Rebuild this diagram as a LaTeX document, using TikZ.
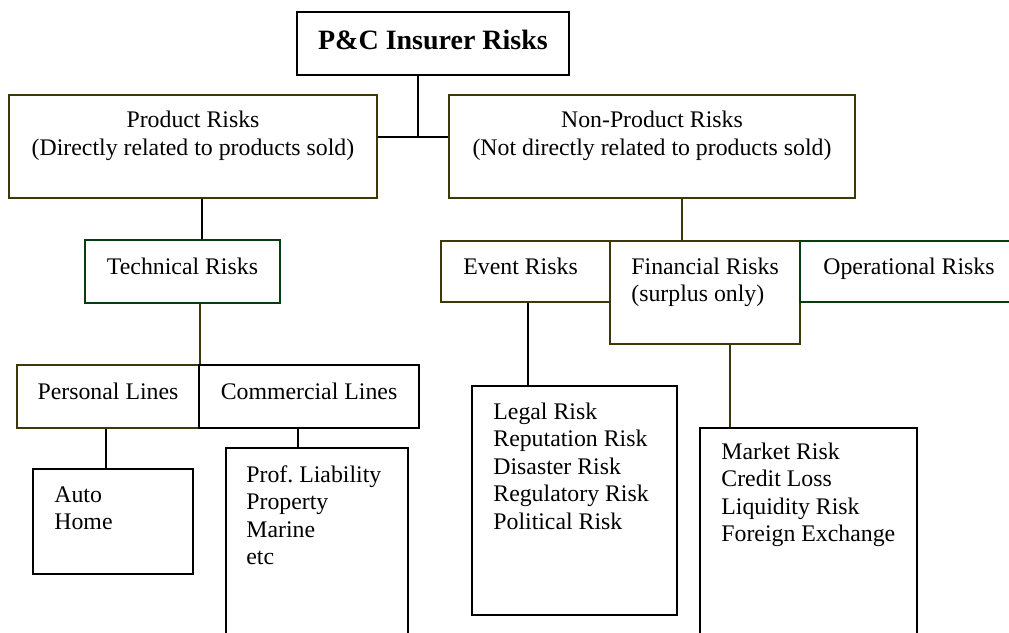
\documentclass[tikz,border=0pt]{standalone}
\usepackage{fontspec}
\setmainfont{Liberation Serif}
\usetikzlibrary{calc}
\definecolor{olivebox}{RGB}{60,56,8}
\definecolor{greenbox}{RGB}{6,60,14}

\begin{document}
\begin{tikzpicture}[x=0.5pt, y=-0.5pt,
        box/.style 2 args={draw, line width=1pt, inner sep=0pt, minimum width=#1, minimum height=#2},
        txt/.style={inner sep=0pt, font=\fontsize{11.9pt}{13.75pt}\selectfont},
        list/.style={txt, align=left, execute at begin node={\frenchspacing\spaceskip=0pt\relax}},
        link/.style={line width=0.9pt}]
    \useasboundingbox (0,0) rectangle (1009,633);
    \clip (0,0) rectangle (1009,633);

    % boxes
    \node[box={136pt}{31.5pt}] (top) at (433,43.5) {};
    \node[box={184pt}{51.5pt}, olivebox] (prod) at (193,146.5) {};
    \node[box={203pt}{51.5pt}, olivebox] (nonprod) at (652,146.5) {};
    \node[box={97.5pt}{31.5pt}, greenbox] (tech) at (182.5,271.5) {};
    \node[box={91pt}{31.5pt}, olivebox] (personal) at (108,396.5) {};
    \node[box={110pt}{31.5pt}] (commercial) at (309,396.5) {};
    \node[box={80pt}{52.5pt}] (auto) at (113,521.5) {};
    \node[box={91pt}{96pt}] (lines) at (317,544) {};
    \node[box={84.5pt}{30.5pt}, olivebox] (event) at (525.5,271.5) {};
    \node[box={95pt}{51.5pt}, olivebox] (fin) at (705,292.5) {};
    \node[box={115pt}{30.5pt}, greenbox] (oper) at (915,271.5) {};
    \node[box={102.5pt}{114.5pt}] (eventlist) at (574.5,500.5) {};
    \node[box={108.5pt}{108.5pt}] (finlist) at (808.5,536.5) {};

    % texts
    \node[txt, anchor=base, font=\bfseries\fontsize{14pt}{16pt}\selectfont] (toptxt) at (433,49) {P\&C Insurer Risks};
    \node[txt, anchor=north, align=center] (prodtxt) at (193,111)
        {Product Risks\\(Directly related to products sold)};
    \node[txt, anchor=north, align=center] (nonprodtxt) at (652,111)
        {Non-Product Risks\\(Not directly related to products sold)};
    \node[txt, anchor=base] (techtxt) at (182.5,274) {Technical Risks};
    \node[txt, anchor=base] (personaltxt) at (108,399) {Personal Lines};
    \node[txt, anchor=base] (commercialtxt) at (309,399) {Commercial Lines};
    \node[txt, anchor=base west] (eventtxt) at (463,274) {Event Risks};
    \node[list, anchor=base west, text width=80pt] (fintxt) at (631,274)
        {Financial Risks\\(surplus only)};
    \node[txt, anchor=base west] (opertxt) at (823,274) {Operational Risks};
    \node[list, anchor=base west, text width=60pt] (autotxt) at (54,502)
        {Auto\\Home};
    \node[list, anchor=base west, text width=80pt] (linestxt) at (246,482)
        {Prof. Liability\\Property\\Marine\\etc};
    \node[list, anchor=base west, text width=90pt] (eventlisttxt) at (493,419)
        {Legal Risk\\Reputation Risk\\Disaster Risk\\Regulatory Risk\\Political Risk};
    \node[list, anchor=base west, text width=95pt] (finlisttxt) at (721,459)
        {Market Risk\\Credit Loss\\Liquidity Risk\\Foreign Exchange};

    % connectors
    \coordinate (bus) at (418,137);
    \coordinate (techin) at ($(tech.north)+(19.5,0)$);
    \coordinate (autoin) at ($(auto.north)+(-7,0)$);
    \coordinate (linesin) at ($(lines.north)+(-19,0)$);
    \coordinate (finin) at ($(fin.north)+(-23,0)$);
    \coordinate (eventin) at ($(eventlist.north)+(-46.5,0)$);
    \coordinate (finlistin) at ($(finlist.north)+(-78.5,0)$);
    \draw[link] (top.south -| bus) -- (bus);
    \draw[link] (prod.east |- bus) -- (nonprod.west |- bus);
    \draw[link] (techin |- prod.south) -- (techin);
    \draw[link, olivebox] (personal.north east |- tech.south) -- (personal.north east);
    \draw[link] (autoin |- personal.south) -- (autoin);
    \draw[link] (linesin |- commercial.south) -- (linesin);
    \draw[link, olivebox] (finin |- nonprod.south) -- (finin);
    \draw[link] (eventin |- event.south) -- (eventin);
    \draw[link, olivebox] (finlistin |- fin.south) -- (finlistin);
\end{tikzpicture}
\end{document}
